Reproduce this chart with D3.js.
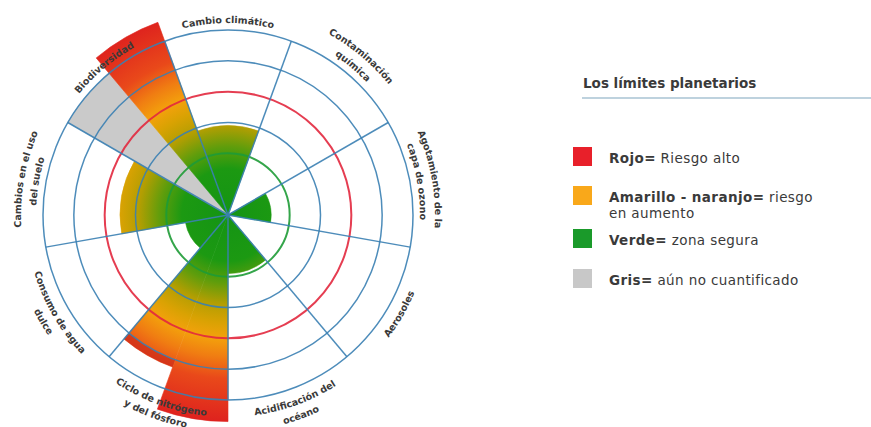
<!DOCTYPE html>
<meta charset="utf-8">
<html>
<style>
body { margin: 0; background: #fff; }
.label { font: bold 9.5px "DejaVu Sans", sans-serif; fill: #3a3a3a; }
.legend { font: 13.5px "DejaVu Sans", sans-serif; fill: #3a3a3a; }
.legend .row { letter-spacing: 0.4px; }
.legend .b { font-weight: 700; }
</style>
<svg width="871" height="427"></svg>
<script src="https://d3js.org/d3.v7.min.js"></script>
<script>
// planetary boundaries, clockwise from the top
var sectors = ["Cambio climático", "Contaminación química", "Agotamiento de la capa de ozono",
  "Aerosoles", "Acidificación del océano", "Ciclo de nitrógeno y del fósforo",
  "Consumo de agua dulce", "Cambios en el uso del suelo", "Biodiversidad"];

var labelLines = [["Cambio climático"], ["Contaminación", "química"], ["Agotamiento de la", "capa de ozono"],
  ["Aerosoles"], ["Acidificación del", "océano"], ["Ciclo de nitrógeno", "y del fósforo"],
  ["Consumo de agua", "dulce"], ["Cambios en el uso", "del suelo"], ["Biodiversidad"]];

// one value per control variable in each sector (0 = centre, 2 = safe limit, 4 = high risk)
var sectorValues = [[2.9], [], [1.4], [], [1.9], [6.7, 5.25], [1.4], [3.5], [6, 6.65]];
var sectorQuantified = [[true], [], [true], [], [true], [true, true], [true], [true], [false, true]];

var ringTicks = [2, 3, 4, 5, 6];
var safeLimit = 2, highRisk = 4;

var legendTitle = "Los límites planetarios";
var legendKeys = [["Rojo="], ["Amarillo - naranjo="], ["Verde="], ["Gris="]];
var legendTexts = [[" Riesgo alto"], [" riesgo", "en aumento"], [" zona segura"], [" aún no cuantificado"]];
var legendColors = ["#e8202a", "#f9a81a", "#1a9a2a", "#c8c8c8"];

var svg = d3.select("svg");
var cx = 228, cy = 215;

var r = d3.scaleLinear().domain([0, 6]).range([0, 185]);
var angle = d3.scaleBand().domain(sectors).range([-Math.PI / 9, 2 * Math.PI - Math.PI / 9]);

var defs = svg.append("defs");
var grad = defs.append("radialGradient")
    .attr("id", "risk")
    .attr("gradientUnits", "userSpaceOnUse")
    .attr("cx", 0).attr("cy", 0).attr("r", r(7));
[[0, "#149414"], [1.5, "#1c9912"], [2.2, "#5e9d0c"], [2.9, "#b49e02"], [3.5, "#d9a203"],
 [4.0, "#f3a10c"], [4.6, "#f07d12"], [5.3, "#e9491a"], [7, "#dc1a1f"]].forEach(function(s) {
  grad.append("stop").attr("offset", r(s[0]) / r(7)).attr("stop-color", s[1]);
});

var g = svg.append("g").attr("transform", "translate(" + cx + "," + cy + ")");

// wedges
var wedges = [];
sectors.forEach(function(s, i) {
  var vals = sectorValues[i], n = vals.length, a0 = angle(s), bw = angle.bandwidth();
  vals.forEach(function(v, j) {
    wedges.push({ value: v, quantified: sectorQuantified[i][j],
      start: a0 + bw * j / n, end: a0 + bw * (j + 1) / n });
  });
});

var arc = d3.arc().innerRadius(0)
    .outerRadius(function(d) { return r(d.value); })
    .startAngle(function(d) { return d.start; })
    .endAngle(function(d) { return d.end; });

g.append("g").selectAll("path")
  .data(wedges)
  .join("path")
    .attr("d", arc)
    .attr("fill", function(d) { return d.quantified ? "url(#risk)" : "#cacaca"; })
    .attr("stroke", function(d) { return d.quantified ? "url(#risk)" : "#cacaca"; })
    .attr("stroke-width", 0.6);

// darker rim on wedges that stop between the last two rings
var rim = d3.arc().innerRadius(r(5))
    .outerRadius(function(d) { return r(d.value); })
    .startAngle(function(d) { return d.start; })
    .endAngle(function(d) { return d.end; });
g.append("g").selectAll("path")
  .data(wedges.filter(function(d) { return d.quantified && d.value > 5 && d.value < 6; }))
  .join("path")
    .attr("d", rim)
    .attr("fill", "#c4201a")
    .attr("fill-opacity", 0.55);

// grid
g.append("g").selectAll("circle")
  .data(ringTicks)
  .join("circle")
    .attr("r", function(d) { return r(d); })
    .attr("fill", "none")
    .attr("stroke", function(d) { return d === safeLimit ? "#1e9b36" : d === highRisk ? "#e2283e" : "#3a80b3"; })
    .attr("stroke-width", function(d) { return d === safeLimit || d === highRisk ? 2 : 1.5; })
    .attr("stroke-opacity", 0.9);

g.append("g").selectAll("line")
  .data(sectors)
  .join("line")
    .attr("x2", function(d) { return r(6) * Math.sin(angle(d)); })
    .attr("y2", function(d) { return -r(6) * Math.cos(angle(d)); })
    .attr("stroke", "#3a80b3")
    .attr("stroke-width", 1.5)
    .attr("stroke-opacity", 0.9);

// curved labels
function arcPath(a, rad, ccw) {
  var span = 1.2;
  var p = function(t) { return [rad * Math.sin(t), -rad * Math.cos(t)]; };
  var s = ccw ? p(a + span) : p(a - span), e = ccw ? p(a - span) : p(a + span);
  return "M" + s[0] + "," + s[1] + "A" + rad + "," + rad + " 0 0 " + (ccw ? 0 : 1) + " " + e[0] + "," + e[1];
}

sectors.forEach(function(s, i) {
  var a = angle(s) + angle.bandwidth() / 2;
  var bottom = a > Math.PI / 2 && a < 3 * Math.PI / 2;
  var lines = labelLines[i];
  lines.forEach(function(t, j) {
    var rad = bottom ? 202 + j * 14.5 : 192 + (lines.length - 1 - j) * 15;
    var id = "lp" + i + "_" + j;
    defs.append("path").attr("id", id).attr("d", arcPath(a, rad, bottom));
    g.append("text").attr("class", "label")
      .append("textPath")
        .attr("href", "#" + id)
        .attr("startOffset", "50%")
        .attr("text-anchor", "middle")
        .text(t);
  });
});

// legend
var lg = svg.append("g").attr("class", "legend");
lg.append("text").attr("x", 583).attr("y", 88).attr("class", "b").text(legendTitle);
lg.append("line").attr("x1", 582).attr("x2", 871).attr("y1", 98).attr("y2", 98)
  .attr("stroke", "#a9c3d3").attr("stroke-width", 1.5);

var rowY = [163, 202, 245, 285];
legendKeys.forEach(function(k, i) {
  lg.append("rect").attr("x", 573).attr("y", rowY[i] - 16).attr("width", 19).attr("height", 19)
    .attr("fill", legendColors[i]);
  var t = lg.append("text").attr("class", "row").attr("x", 609).attr("y", rowY[i]);
  t.append("tspan").attr("class", "b").text(k[0]);
  t.append("tspan").text(legendTexts[i][0]);
  if (legendTexts[i][1]) {
    lg.append("text").attr("class", "row").attr("x", 609).attr("y", rowY[i] + 16).text(legendTexts[i][1]);
  }
});
</script>
</html>
